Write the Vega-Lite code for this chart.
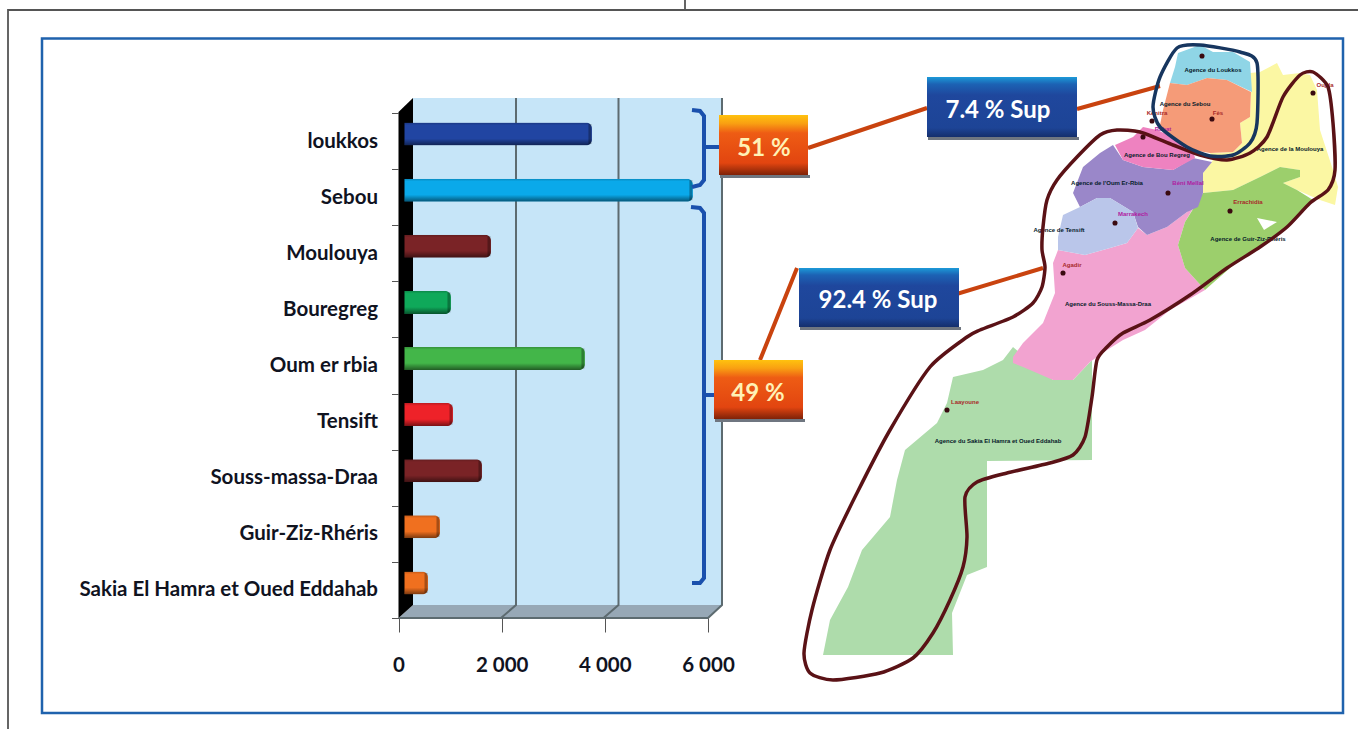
{"$schema":"https://vega.github.io/schema/vega-lite/v6.json","width":1358,"height":729,"padding":0,"autosize":{"type":"none"},"background":"white",
"config":{"view":{"stroke":null}},
"datasets":{
"bars":[{"basin":"loukkos","volume":3750},{"basin":"Sebou","volume":5707},{"basin":"Moulouya","volume":1793},{"basin":"Bouregreg","volume":1017},{"basin":"Oum er rbia","volume":3614},{"basin":"Tensift","volume":1056},{"basin":"Souss-massa-Draa","volume":1618},{"basin":"Guir-Ziz-Rhéris","volume":804},{"basin":"Sakia El Hamra et Oued Eddahab","volume":572}],
"frame":[{"type":"Feature","properties":{"name":"f"},"geometry":{"type":"MultiLineString","coordinates":[[[0.8,72.9],[0.8,1.0],[135.8,1.0]],[[68.5,0],[68.5,1.0]]]}}],
"panel":[{"type":"Feature","properties":{"name":"p"},"geometry":{"type":"Polygon","coordinates":[[[4.2,3.85],[134.3,3.85],[134.3,71.3],[4.2,71.3],[4.2,3.85]]]}}],
"walls":[
{"type":"Feature","properties":{"name":"back"},"geometry":{"type":"Polygon","coordinates":[[[41.3,9.8],[72.2,9.8],[72.2,60.5],[41.3,60.5],[41.3,9.8]]]}},
{"type":"Feature","properties":{"name":"floor"},"geometry":{"type":"Polygon","coordinates":[[[39.85,61.8],[41.3,60.5],[72.2,60.5],[70.8,61.8],[39.85,61.8]]]}},
{"type":"Feature","properties":{"name":"side"},"geometry":{"type":"Polygon","coordinates":[[[39.85,11.2],[41.3,9.8],[41.3,60.5],[39.85,61.8],[39.85,11.2]]]}}],
"grid":[{"type":"Feature","properties":{"name":"g"},"geometry":{"type":"MultiLineString","coordinates":[[[51.6,9.8],[51.6,60.5],[50.1,61.8]],[[61.85,9.8],[61.85,60.5],[60.35,61.8]],[[72.2,9.8],[72.2,60.5],[70.8,61.8],[39.85,61.8]]]}}],
"braces":[{"type":"Feature","properties":{"name":"b"},"geometry":{"type":"MultiLineString","coordinates":[[[69.2,11.0],[70.0,11.1],[70.4,11.6],[70.4,18.0],[70.0,18.5],[69.2,18.7]],[[70.4,14.7],[72.0,14.7]],[[69.1,20.7],[70.0,20.8],[70.4,21.3],[70.4,57.8],[70.0,58.3],[69.2,58.3]],[[70.4,39.5],[71.5,39.5]]]}}],
"leads":[{"type":"Feature","properties":{"name":"l"},"geometry":{"type":"MultiLineString","coordinates":[[[80.8,14.8],[92.7,10.8]],[[107.7,10.9],[116.0,8.6]],[[95.0,29.6],[104.3,26.8]],[[76.0,36.0],[79.7,26.8]]]}}],
"regions":[
{"type":"Feature","properties":{"name":"Sakia"},"geometry":{"type":"Polygon","coordinates":[[[95.3,37.7],[98.3,37.0],[100.3,36.0],[101.3,34.7],[105.3,38.0],[107.3,38.0],[109.2,36.0],[109.2,46.0],[98.7,46.1],[98.7,56.7],[96.7,57.5],[95.2,61.3],[95.3,65.5],[82.3,65.5],[83.0,62.0],[84.8,58.7],[86.2,55.0],[89.0,51.7],[89.7,48.0],[90.5,45.0],[93.7,42.3],[94.7,40.3],[95.3,37.7]]]}},
{"type":"Feature","properties":{"name":"Souss"},"geometry":{"type":"Polygon","coordinates":[[[105.8,25.0],[108.5,25.5],[111.0,24.8],[112.7,24.3],[113.8,22.8],[114.7,23.5],[116.7,22.7],[118.7,21.2],[119.8,20.0],[118.5,22.2],[117.8,24.5],[118.5,26.8],[120.5,29.0],[117.0,31.0],[114.5,33.0],[112.3,34.0],[110.7,35.0],[109.0,36.2],[107.3,38.0],[105.3,38.0],[103.7,37.3],[102.3,36.7],[101.3,36.3],[101.3,35.7],[102.3,34.3],[104.3,32.3],[105.5,29.3],[105.3,26.3],[105.8,25.0]]]}},
{"type":"Feature","properties":{"name":"Moulouya"},"geometry":{"type":"Polygon","coordinates":[[[126.0,7.2],[127.7,6.3],[128.3,7.5],[130.0,7.3],[131.0,7.5],[131.7,9.0],[132.0,13.0],[133.3,17.0],[133.8,18.7],[133.5,20.5],[132.0,20.0],[129.7,19.0],[128.3,18.3],[130.0,17.7],[130.0,17.0],[128.0,16.7],[126.0,17.7],[123.3,19.0],[120.3,19.3],[120.3,17.3],[121.3,16.0],[121.0,15.3],[123.3,15.2],[124.2,14.3],[124.0,12.3],[125.0,11.7],[125.1,9.2],[125.0,7.3],[126.0,7.2]]]}},
{"type":"Feature","properties":{"name":"Guir"},"geometry":{"type":"Polygon","coordinates":[[[120.3,19.3],[123.3,19.0],[126.0,17.7],[128.0,16.7],[130.0,17.0],[130.0,17.7],[128.3,18.3],[129.7,19.0],[131.3,20.0],[129.5,22.0],[127.0,24.0],[124.5,25.5],[122.2,27.5],[120.5,29.0],[118.5,26.8],[117.8,24.5],[118.5,22.2],[120.3,19.3]]]}},
{"type":"Feature","properties":{"name":"Notch"},"geometry":{"type":"Polygon","coordinates":[[[125.7,21.8],[127.7,22.2],[126.4,23.0],[125.7,21.8]]]}},
{"type":"Feature","properties":{"name":"Oum"},"geometry":{"type":"Polygon","coordinates":[[[111.3,14.5],[112.3,16.0],[114.3,16.7],[117.3,17.0],[119.3,15.8],[121.2,16.2],[120.3,17.3],[120.3,19.3],[119.8,20.7],[118.7,21.2],[116.7,22.7],[114.7,23.5],[113.8,22.7],[113.3,21.2],[111.0,19.8],[109.7,19.8],[108.0,20.7],[107.3,19.3],[108.3,16.7],[110.0,15.3],[111.3,14.5]]]}},
{"type":"Feature","properties":{"name":"BouRegreg"},"geometry":{"type":"Polygon","coordinates":[[[114.3,12.7],[115.7,13.0],[117.3,13.7],[119.3,15.0],[119.5,15.8],[117.3,17.0],[114.3,16.7],[112.3,16.0],[111.5,14.5],[113.3,13.7],[114.3,12.7]]]}},
{"type":"Feature","properties":{"name":"Tensift"},"geometry":{"type":"Polygon","coordinates":[[[109.7,19.8],[111.0,19.8],[113.3,21.2],[113.8,22.8],[112.7,24.3],[111.0,24.8],[108.5,25.5],[105.8,25.0],[105.8,23.7],[106.3,21.5],[108.0,20.7],[109.7,19.8]]]}},
{"type":"Feature","properties":{"name":"Loukkos"},"geometry":{"type":"Polygon","coordinates":[[[117.8,5.3],[120.0,4.5],[121.3,5.2],[123.3,5.2],[125.0,6.2],[125.2,9.2],[122.7,8.0],[120.7,7.8],[118.7,8.5],[117.0,8.3],[117.5,6.7],[117.8,5.3]]]}},
{"type":"Feature","properties":{"name":"Sebou"},"geometry":{"type":"Polygon","coordinates":[[[117.0,8.3],[118.7,8.5],[120.7,7.8],[122.7,8.0],[125.1,9.2],[125.0,11.7],[124.0,12.3],[124.2,14.3],[123.3,15.2],[121.0,15.3],[119.3,15.0],[117.3,13.7],[116.0,12.5],[116.3,11.0],[117.0,8.3]]]}}],
"loops":[
{"zone":"Zone2","seq":1,"lon":131.3,"lat":7.2},{"zone":"Zone2","seq":2,"lon":132.8,"lat":8.7},{"zone":"Zone2","seq":3,"lon":133.3,"lat":12.3},{"zone":"Zone2","seq":4,"lon":133.5,"lat":17.0},{"zone":"Zone2","seq":5,"lon":132.8,"lat":19.0},{"zone":"Zone2","seq":6,"lon":131.0,"lat":20.3},{"zone":"Zone2","seq":7,"lon":128.7,"lat":22.7},{"zone":"Zone2","seq":8,"lon":126.0,"lat":24.7},{"zone":"Zone2","seq":9,"lon":122.7,"lat":26.8},{"zone":"Zone2","seq":10,"lon":119.0,"lat":29.5},{"zone":"Zone2","seq":11,"lon":115.0,"lat":32.0},{"zone":"Zone2","seq":12,"lon":112.3,"lat":33.3},{"zone":"Zone2","seq":13,"lon":110.7,"lat":34.7},{"zone":"Zone2","seq":14,"lon":109.7,"lat":36.0},{"zone":"Zone2","seq":15,"lon":109.2,"lat":39.7},{"zone":"Zone2","seq":16,"lon":108.5,"lat":43.7},{"zone":"Zone2","seq":17,"lon":107.3,"lat":45.5},{"zone":"Zone2","seq":18,"lon":105.0,"lat":46.3},{"zone":"Zone2","seq":19,"lon":100.7,"lat":47.3},{"zone":"Zone2","seq":20,"lon":97.7,"lat":48.2},{"zone":"Zone2","seq":21,"lon":96.5,"lat":49.7},{"zone":"Zone2","seq":22,"lon":96.7,"lat":53.7},{"zone":"Zone2","seq":23,"lon":96.3,"lat":56.7},{"zone":"Zone2","seq":24,"lon":95.0,"lat":60.0},{"zone":"Zone2","seq":25,"lon":93.3,"lat":63.3},{"zone":"Zone2","seq":26,"lon":91.3,"lat":65.8},{"zone":"Zone2","seq":27,"lon":88.0,"lat":67.3},{"zone":"Zone2","seq":28,"lon":83.3,"lat":68.0},{"zone":"Zone2","seq":29,"lon":81.0,"lat":67.3},{"zone":"Zone2","seq":30,"lon":80.4,"lat":65.3},{"zone":"Zone2","seq":31,"lon":81.2,"lat":61.0},{"zone":"Zone2","seq":32,"lon":83.0,"lat":55.0},{"zone":"Zone2","seq":33,"lon":85.7,"lat":49.3},{"zone":"Zone2","seq":34,"lon":89.0,"lat":43.0},{"zone":"Zone2","seq":35,"lon":93.0,"lat":36.7},{"zone":"Zone2","seq":36,"lon":96.7,"lat":33.7},{"zone":"Zone2","seq":37,"lon":98.0,"lat":33.0},{"zone":"Zone2","seq":38,"lon":101.3,"lat":31.7},{"zone":"Zone2","seq":39,"lon":103.3,"lat":30.3},{"zone":"Zone2","seq":40,"lon":104.2,"lat":28.7},{"zone":"Zone2","seq":41,"lon":104.5,"lat":26.7},{"zone":"Zone2","seq":42,"lon":104.2,"lat":25.0},{"zone":"Zone2","seq":43,"lon":104.3,"lat":22.7},{"zone":"Zone2","seq":44,"lon":104.7,"lat":20.0},{"zone":"Zone2","seq":45,"lon":105.7,"lat":18.0},{"zone":"Zone2","seq":46,"lon":107.7,"lat":15.7},{"zone":"Zone2","seq":47,"lon":110.0,"lat":13.5},{"zone":"Zone2","seq":48,"lon":111.7,"lat":13.0},{"zone":"Zone2","seq":49,"lon":114.0,"lat":13.2},{"zone":"Zone2","seq":50,"lon":117.3,"lat":14.5},{"zone":"Zone2","seq":51,"lon":120.0,"lat":15.5},{"zone":"Zone2","seq":52,"lon":122.7,"lat":16.0},{"zone":"Zone2","seq":53,"lon":125.0,"lat":15.3},{"zone":"Zone2","seq":54,"lon":126.7,"lat":13.7},{"zone":"Zone2","seq":55,"lon":128.3,"lat":9.7},{"zone":"Zone2","seq":56,"lon":130.0,"lat":7.5},
{"zone":"Zone1","seq":1,"lon":117.7,"lat":4.8},{"zone":"Zone1","seq":2,"lon":120.0,"lat":4.5},{"zone":"Zone1","seq":3,"lon":124.0,"lat":5.2},{"zone":"Zone1","seq":4,"lon":125.7,"lat":6.3},{"zone":"Zone1","seq":5,"lon":125.7,"lat":12.3},{"zone":"Zone1","seq":6,"lon":125.0,"lat":14.3},{"zone":"Zone1","seq":7,"lon":123.3,"lat":15.5},{"zone":"Zone1","seq":8,"lon":121.0,"lat":15.6},{"zone":"Zone1","seq":9,"lon":118.7,"lat":14.7},{"zone":"Zone1","seq":10,"lon":116.0,"lat":12.7},{"zone":"Zone1","seq":11,"lon":115.3,"lat":10.7},{"zone":"Zone1","seq":12,"lon":116.0,"lat":7.7}],
"boxesOrange":[{"type":"Feature","properties":{"name":"a"},"geometry":{"type":"Polygon","coordinates":[[[71.9,11.5],[80.8,11.5],[80.8,17.5],[71.9,17.5],[71.9,11.5]]]}},{"type":"Feature","properties":{"name":"b"},"geometry":{"type":"Polygon","coordinates":[[[71.4,36.0],[80.3,36.0],[80.3,41.9],[71.4,41.9],[71.4,36.0]]]}}],
"boxesBlue":[{"type":"Feature","properties":{"name":"a"},"geometry":{"type":"Polygon","coordinates":[[[92.7,7.7],[107.7,7.7],[107.7,13.7],[92.7,13.7],[92.7,7.7]]]}},{"type":"Feature","properties":{"name":"b"},"geometry":{"type":"Polygon","coordinates":[[[79.9,26.8],[95.9,26.8],[95.9,32.7],[79.9,32.7],[79.9,26.8]]]}}],
"boxShadows":[{"type":"Feature","properties":{"name":"s"},"geometry":{"type":"MultiPolygon","coordinates":[[[[72.0,17.5],[81.0,17.5],[81.0,17.8],[72.0,17.8],[72.0,17.5]]],[[[71.5,41.9],[80.5,41.9],[80.5,42.2],[71.5,42.2],[71.5,41.9]]],[[[92.8,13.7],[107.9,13.7],[107.9,14.0],[92.8,14.0],[92.8,13.7]]],[[[80.0,32.7],[96.1,32.7],[96.1,33.0],[80.0,33.0],[80.0,32.7]]]]}}],
"mapLabels":[
{"label":"Agence du Loukkos","lon":121.3,"lat":7.0,"kind":"agency"},{"label":"Agence du Sebou","lon":118.5,"lat":10.4,"kind":"agency"},{"label":"Agence de Bou Regreg","lon":115.7,"lat":15.5,"kind":"agency"},{"label":"Agence de la Moulouya","lon":129.0,"lat":14.9,"kind":"agency"},{"label":"Agence de l'Oum Er-Rbia","lon":110.7,"lat":18.3,"kind":"agency"},{"label":"Agence de Tensift","lon":105.9,"lat":23.0,"kind":"agency"},{"label":"Agence de Guir-Ziz-Rhéris","lon":124.8,"lat":23.9,"kind":"agency"},{"label":"Agence du Souss-Massa-Draa","lon":110.8,"lat":30.4,"kind":"agency"},{"label":"Agence du Sakia El Hamra et Oued Eddahab","lon":99.8,"lat":44.1,"kind":"agency"},
{"label":"Fès","lon":121.8,"lat":11.3,"kind":"city"},{"label":"Oujda","lon":132.5,"lat":8.5,"kind":"city"},{"label":"Errachidia","lon":124.8,"lat":20.2,"kind":"city"},{"label":"Agadir","lon":107.2,"lat":26.5,"kind":"city"},{"label":"Laayoune","lon":96.5,"lat":40.2,"kind":"city"},{"label":"Kénitra","lon":115.7,"lat":11.3,"kind":"city"},
{"label":"Rabat","lon":116.3,"lat":12.9,"kind":"magenta"},{"label":"Béni Mellal","lon":118.8,"lat":18.3,"kind":"magenta"},{"label":"Marrakech","lon":113.3,"lat":21.4,"kind":"magenta"}],
"cities":[{"lon":120.2,"lat":5.6},{"lon":121.2,"lat":11.9},{"lon":115.2,"lat":12.1},{"lon":114.3,"lat":13.7},{"lon":131.3,"lat":9.3},{"lon":116.8,"lat":19.3},{"lon":123.0,"lat":21.1},{"lon":111.5,"lat":22.3},{"lon":106.3,"lat":27.3},{"lon":94.7,"lat":41.0}],
"calloutText":[{"label":"51 %","lon":76.4,"lat":14.9,"kind":"orange"},{"label":"49 %","lon":75.8,"lat":39.4,"kind":"orange"},{"label":"7.4 % Sup","lon":99.8,"lat":11.1,"kind":"blue"},{"label":"92.4 % Sup","lon":87.8,"lat":30.1,"kind":"blue"}]
},
"resolve":{"scale":{"fill":"independent","color":"independent"}},
"layer":[
{"data":{"name":"panel"},"projection":{"type":"identity","scale":10,"translate":[0,0],"reflectY":false},"mark":{"type":"geoshape","fill":"#ffffff","stroke":"#1f62ad","strokeWidth":2.5}},
{"data":{"name":"frame"},"projection":{"type":"identity","scale":10,"translate":[0,0],"reflectY":false},"mark":{"type":"geoshape","fill":null,"stroke":"#555555","strokeWidth":1.8}},
{"data":{"name":"walls"},"projection":{"type":"identity","scale":10,"translate":[0,0],"reflectY":false},"mark":{"type":"geoshape","strokeWidth":0},"encoding":{"fill":{"field":"properties.name","type":"nominal","legend":null,"scale":{"domain":["back","floor","side"],"range":["#c6e5f8","#97a8b6","#000000"]}}}},
{"data":{"name":"grid"},"projection":{"type":"identity","scale":10,"translate":[0,0],"reflectY":false},"mark":{"type":"geoshape","fill":null,"stroke":"#5d6b70","strokeWidth":2}},
{"data":{"name":"bars"},"mark":{"type":"bar","size":23,"xOffset":6,"yOffset":-7,"cornerRadius":6},"encoding":{
"y":{"field":"basin","type":"nominal","sort":null,"title":null,"scale":{"type":"band","range":[113,618],"paddingInner":0,"paddingOuter":0},"axis":{"zindex":1,"domain":false,"offset":-398.5,"tickBand":"extent","tickSize":7,"tickColor":"#555555","labelPadding":14,"labelFont":"Lato","labelFontWeight":"bold","labelFontSize":20.5,"labelColor":"#10131f","labelLimit":400}},
"x":{"field":"volume","type":"quantitative","title":null,"scale":{"domain":[0,6000],"range":[398.5,708],"nice":false},"axis":{"zindex":1,"domain":false,"grid":false,"offset":-111,"values":[0,2000,4000,6000],"labelFlush":false,"labelOverlap":false,"labelExpr":"replace(datum.label,',',' ')","tickSize":14,"tickColor":"#555555","labelPadding":23,"labelFont":"Lato","labelFontWeight":"bold","labelFontSize":20.5,"labelColor":"#10131f"}},
"fill":{"field":"basin","type":"nominal","legend":null,"scale":{"domain":["loukkos","Sebou","Moulouya","Bouregreg","Oum er rbia","Tensift","Souss-massa-Draa","Guir-Ziz-Rhéris","Sakia El Hamra et Oued Eddahab"],"range":["#2145a2","#0aa9ea","#7a2326","#0fa95a","#43b649","#ee2229","#7a2326","#f0701f","#f0701f"]}}}},
{"data":{"name":"bars"},"mark":{"type":"bar","size":23,"xOffset":6,"yOffset":-7,"cornerRadius":6,"fill":{"gradient":"linear","x1":0,"y1":0,"x2":0,"y2":1,"stops":[{"offset":0,"color":"rgba(0,0,0,0.2)"},{"offset":0.12,"color":"rgba(0,0,0,0)"},{"offset":0.7,"color":"rgba(0,0,0,0)"},{"offset":1,"color":"rgba(0,0,0,0.5)"}]}},"encoding":{"y":{"field":"basin","type":"nominal","sort":null},"x":{"field":"volume","type":"quantitative"}}},
{"data":{"name":"bars"},"mark":{"type":"tick","size":20,"thickness":3,"xOffset":-2,"yOffset":-7,"color":"#000000","opacity":0.3},"encoding":{"y":{"field":"basin","type":"nominal","sort":null},"x":{"field":"volume","type":"quantitative"}}},
{"data":{"name":"braces"},"projection":{"type":"identity","scale":10,"translate":[0,0],"reflectY":false},"mark":{"type":"geoshape","fill":null,"stroke":"#1a50ad","strokeWidth":4}},
{"data":{"name":"regions"},"projection":{"type":"identity","scale":10,"translate":[0,0],"reflectY":false},"mark":{"type":"geoshape","strokeWidth":0},"encoding":{"fill":{"field":"properties.name","type":"nominal","legend":null,"scale":{"domain":["Sakia","Souss","Moulouya","Guir","Notch","Oum","BouRegreg","Tensift","Loukkos","Sebou"],"range":["#aedcab","#f2a3d0","#fbf7a3","#9ccf6c","#ffffff","#9a87c9","#ee82c0","#bac6ea","#8fd5e6","#f59b78"]}}}},
{"data":{"name":"leads"},"projection":{"type":"identity","scale":10,"translate":[0,0],"reflectY":false},"mark":{"type":"geoshape","fill":null,"stroke":"#c9430f","strokeWidth":4}},
{"data":{"name":"cities"},"projection":{"type":"identity","scale":10,"translate":[0,0],"reflectY":false},"mark":{"type":"circle","size":26,"color":"#3a0a10","opacity":1},"encoding":{"longitude":{"field":"lon","type":"quantitative"},"latitude":{"field":"lat","type":"quantitative"}}},
{"data":{"name":"mapLabels"},"projection":{"type":"identity","scale":10,"translate":[0,0],"reflectY":false},"mark":{"type":"text","fontSize":6,"fontWeight":"bold","font":"Liberation Sans"},"encoding":{"longitude":{"field":"lon","type":"quantitative"},"latitude":{"field":"lat","type":"quantitative"},"text":{"field":"label"},"color":{"field":"kind","type":"nominal","legend":null,"scale":{"domain":["agency","city","magenta"],"range":["#06202a","#a82a2a","#b020a0"]}}}},
{"data":{"name":"loops"},"projection":{"type":"identity","scale":10,"translate":[0,0],"reflectY":false},"mark":{"type":"line","strokeWidth":3.5,"interpolate":"cardinal-closed","tension":0.3},"encoding":{"longitude":{"field":"lon","type":"quantitative"},"latitude":{"field":"lat","type":"quantitative"},"order":{"field":"seq","type":"ordinal"},"detail":{"field":"zone"},"color":{"field":"zone","type":"nominal","legend":null,"scale":{"domain":["Zone2","Zone1"],"range":["#5a1216","#17365f"]}}}},
{"data":{"name":"boxShadows"},"projection":{"type":"identity","scale":10,"translate":[0,0],"reflectY":false},"mark":{"type":"geoshape","fill":"#6f7680","strokeWidth":0}},
{"data":{"name":"boxesOrange"},"projection":{"type":"identity","scale":10,"translate":[0,0],"reflectY":false},"mark":{"type":"geoshape","strokeWidth":0,"fill":{"gradient":"linear","x1":0,"y1":0,"x2":0,"y2":1,"stops":[{"offset":0,"color":"#ffc20e"},{"offset":0.14,"color":"#f9a012"},{"offset":0.3,"color":"#ee5c14"},{"offset":0.8,"color":"#e24510"},{"offset":1,"color":"#7e2208"}]}}},
{"data":{"name":"boxesBlue"},"projection":{"type":"identity","scale":10,"translate":[0,0],"reflectY":false},"mark":{"type":"geoshape","strokeWidth":0,"fill":{"gradient":"linear","x1":0,"y1":0,"x2":0,"y2":1,"stops":[{"offset":0,"color":"#1c9ad8"},{"offset":0.12,"color":"#1c62b4"},{"offset":0.3,"color":"#1f479d"},{"offset":0.85,"color":"#1d4496"},{"offset":1,"color":"#142e6c"}]}}},
{"data":{"name":"calloutText"},"projection":{"type":"identity","scale":10,"translate":[0,0],"reflectY":false},"mark":{"type":"text","fontSize":24,"fontWeight":"bold","font":"Lato","align":"center","baseline":"middle"},"encoding":{"longitude":{"field":"lon","type":"quantitative"},"latitude":{"field":"lat","type":"quantitative"},"text":{"field":"label"},"color":{"field":"kind","type":"nominal","legend":null,"scale":{"domain":["orange","blue"],"range":["#fff1b5","#ffffff"]}}}}
]}
